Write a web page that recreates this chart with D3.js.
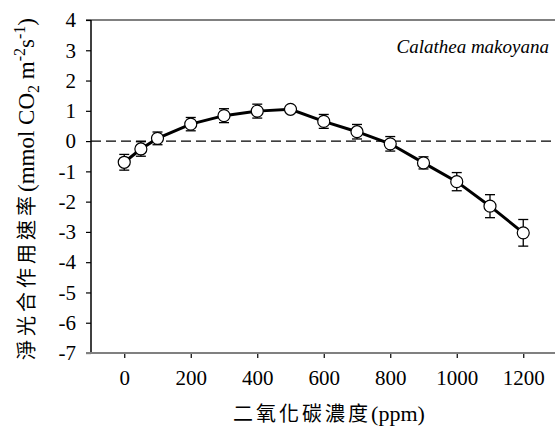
<!DOCTYPE html>
<html><head><meta charset="utf-8">
<script src="https://cdn.jsdelivr.net/npm/d3@7"></script>
<style>body{margin:0;background:#fff}svg{display:block}
.serif{font-family:"Liberation Serif","Times New Roman","DejaVu Serif",serif}
.cjk{font-family:"Noto Sans CJK TC","Noto Sans CJK SC",sans-serif}
</style>
</head><body>
<svg id="c" width="555" height="441"></svg>
<script>
const co2 = [0, 50, 100, 200, 300, 400, 500, 600, 700, 800, 900, 1000, 1100, 1200];
const rate = [-0.70, -0.26, 0.09, 0.56, 0.84, 0.99, 1.05, 0.65, 0.31, -0.09, -0.72, -1.34, -2.15, -3.03];
const err = [0.26, 0.24, 0.21, 0.22, 0.23, 0.23, 0.10, 0.23, 0.24, 0.24, 0.20, 0.30, 0.38, 0.44];
const xTicks = [0, 200, 400, 600, 800, 1000, 1200];
const yTicks = [4, 3, 2, 1, 0, -1, -2, -3, -4, -5, -6, -7];

const svg = d3.select("#c");
const x = d3.scaleLinear().domain([-100, 1300]).range([91, 556.5]);
const y = d3.scaleLinear().domain([-7, 4]).range([353, 20]);
const fmt = d => String(d);

// top frame line (gray)
svg.append("line").attr("x1", 86).attr("x2", 555).attr("y1", y(4)).attr("y2", y(4))
  .attr("stroke", "#808080").attr("stroke-width", 2);

// zero dashed line
svg.append("line").attr("x1", x(-100)).attr("x2", 555).attr("y1", y(0)).attr("y2", y(0))
  .attr("stroke", "#000").attr("stroke-width", 1.3).attr("stroke-dasharray", "10,5");

// y axis
const ya = svg.append("g").attr("transform", "translate(91,0)")
  .call(d3.axisLeft(y).tickValues(yTicks).tickSize(5).tickPadding(10).tickFormat(fmt));
ya.attr("font-family", null).attr("font-size", null);
ya.select(".domain").attr("stroke", "#000").attr("stroke-width", 1.5).attr("d", `M0,${y(4)}V${y(-7)}`);
ya.selectAll(".tick line").attr("stroke", "#000").attr("stroke-width", 1.2);
ya.selectAll("text").attr("class", "serif").style("font-size", "21px").attr("fill", "#000");

// x axis
const xa = svg.append("g").attr("transform", `translate(0,${y(-7)})`)
  .call(d3.axisBottom(x).tickValues(xTicks).tickSize(5).tickPadding(12).tickFormat(fmt));
xa.attr("font-family", null).attr("font-size", null);
xa.select(".domain").remove();
xa.append("line").attr("x1", 86).attr("x2", 555).attr("y1", 0).attr("y2", 0)
  .attr("stroke", "#808080").attr("stroke-width", 2);
xa.selectAll(".tick line").attr("stroke", "#000").attr("stroke-width", 1.2);
xa.selectAll("text").attr("class", "serif").style("font-size", "21px").attr("fill", "#000");

// line
svg.append("path").datum(co2.map((c, i) => [c, rate[i]]))
  .attr("fill", "none").attr("stroke", "#000").attr("stroke-width", 3)
  .attr("d", d3.line().x(d => x(d[0])).y(d => y(d[1])));

// error bars
const eb = svg.append("g").selectAll("g").data(co2.map((c, i) => ({c, v: rate[i], e: err[i]}))).join("g");
eb.append("line").attr("x1", d => x(d.c)).attr("x2", d => x(d.c))
  .attr("y1", d => y(d.v + d.e)).attr("y2", d => y(d.v - d.e)).attr("stroke", "#000").attr("stroke-width", 1.3);
eb.append("line").attr("x1", d => x(d.c) - 5).attr("x2", d => x(d.c) + 5)
  .attr("y1", d => y(d.v + d.e)).attr("y2", d => y(d.v + d.e)).attr("stroke", "#000").attr("stroke-width", 1.3);
eb.append("line").attr("x1", d => x(d.c) - 5).attr("x2", d => x(d.c) + 5)
  .attr("y1", d => y(d.v - d.e)).attr("y2", d => y(d.v - d.e)).attr("stroke", "#000").attr("stroke-width", 1.3);

// markers
svg.append("g").selectAll("circle").data(co2.map((c, i) => [c, rate[i]])).join("circle")
  .attr("cx", d => x(d[0])).attr("cy", d => y(d[1])).attr("r", 6)
  .attr("fill", "#fff").attr("stroke", "#000").attr("stroke-width", 1.2);

// annotation
svg.append("text").attr("class", "serif").attr("x", 549).attr("y", 53).attr("text-anchor", "end")
  .style("font-style", "italic").style("font-size", "19px").text("Calathea makoyana");

// x title
const xt = svg.append("text").attr("x", 329).attr("y", 421).attr("text-anchor", "middle")
  .style("font-size", "20px").attr("fill", "#000");
xt.append("tspan").attr("class", "cjk").style("letter-spacing", "3px").text("二氧化碳濃度");
xt.append("tspan").attr("class", "serif").style("font-size", "22px").text("(ppm)");

// y title
const yt = svg.append("text").attr("transform", "translate(34,189) rotate(-90)")
  .attr("text-anchor", "middle").style("font-size", "23px").attr("fill", "#000");
yt.append("tspan").attr("class", "cjk").style("font-size", "20px").style("letter-spacing", "4px").text("淨光合作用速率");
yt.append("tspan").attr("class", "serif").text("(mmol CO");
yt.append("tspan").attr("class", "serif").style("font-size", "16px").attr("dy", 5).text("2");
yt.append("tspan").attr("class", "serif").attr("dy", -5).text(" m");
yt.append("tspan").attr("class", "serif").style("font-size", "16px").attr("dy", -9).text("-2");
yt.append("tspan").attr("class", "serif").attr("dy", 9).text("s");
yt.append("tspan").attr("class", "serif").style("font-size", "16px").attr("dy", -9).text("-1");
yt.append("tspan").attr("class", "serif").attr("dy", 9).text(")");
</script>
</body></html>
